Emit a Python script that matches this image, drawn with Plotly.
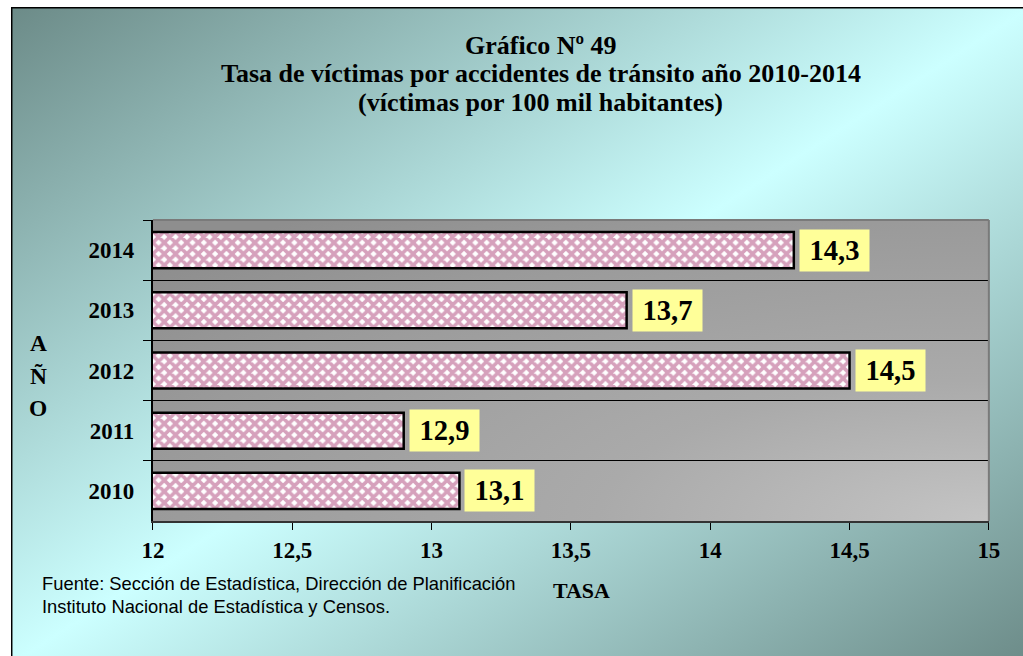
import base64
import plotly.graph_objects as go

# Rate of traffic-accident victims per 100k inhabitants, by year
years = ["2010", "2011", "2012", "2013", "2014"]
rates = [13.1, 12.9, 14.5, 13.7, 14.3]
x_ticks = [12, 12.5, 13, 13.5, 14, 14.5, 15]

title_lines = [
    "Gráfico Nº 49",
    "Tasa de víctimas por accidentes de tránsito año 2010-2014",
    "(víctimas por 100 mil habitantes)",
]
source_lines = [
    "Fuente: Sección de Estadística, Dirección de Planificación",
    "Instituto Nacional de Estadística y Censos.",
]

# Figure size and layout positions, in figure pixels
FW, FH = 1040, 656
PL, PR, PT, PB = 145, 999, 220, 521  # plot box
FS = 1.02  # common font scale


def px(x):
    return x / FW


def py(y):
    return 1 - y / FH


def svg_uri(svg):
    return "data:image/svg+xml;base64," + base64.b64encode(svg.encode("utf-8")).decode()


# teal diagonal gradient behind the whole chart, with a thin frame on left/top
page_svg = (
    f'<svg xmlns="http://www.w3.org/2000/svg" width="{FW}" height="{FH}" viewBox="0 0 {FW} {FH}" '
    'preserveAspectRatio="none"><defs>'
    '<linearGradient id="g" x1="0" y1="0" x2="1" y2="1">'
    '<stop offset="0" stop-color="#6c8b88"/><stop offset="0.5" stop-color="#ccffff"/>'
    '<stop offset="1" stop-color="#6c8b88"/></linearGradient></defs>'
    f'<rect x="0" y="8" width="{FW}" height="{FH}" fill="url(#g)"/>'
    f'<path d="M0.75 {FH} V7.75 H{FW}" stroke="#000" stroke-width="1.5" fill="none"/></svg>'
)

# grey plot area, lightest toward the lower right
pw, ph = PR - PL, PB - PT
plot_svg = (
    f'<svg xmlns="http://www.w3.org/2000/svg" width="{pw}" height="{ph}" viewBox="0 0 {pw} {ph}" '
    'preserveAspectRatio="none"><defs>'
    '<radialGradient id="r" cx="1" cy="1" r="1.3" fx="1" fy="1">'
    '<stop offset="0" stop-color="#c4c4c4"/><stop offset="0.36" stop-color="#aaaaaa"/>'
    '<stop offset="0.77" stop-color="#9a9a9a"/><stop offset="1" stop-color="#8e8e8e"/>'
    '</radialGradient></defs>'
    f'<rect x="0" y="0" width="{pw}" height="{ph}" fill="url(#r)"/></svg>'
)

serif = "Liberation Serif"
sans = "Liberation Sans"

fig = go.Figure(
    go.Bar(
        y=years,
        x=rates,
        orientation="h",
        width=0.6,
        marker=dict(
            color="#ffffff",
            pattern=dict(shape="x", fgcolor="#ad4479", bgcolor="#ffffff", size=8, solidity=0.7),
            line=dict(color="black", width=2.5),
        ),
        hoverinfo="x+y",
    )
)

annotations = []
for i, v in enumerate(rates):
    # value boxes sit just past the bar end (category index on the y axis)
    annotations.append(dict(
        x=v, y=i, xref="x", yref="y", xanchor="left", yanchor="middle", xshift=5,
        text=f"{v:.1f}".replace(".", ","), showarrow=False,
        bgcolor="#ffff99", borderpad=4, width=61, height=33,
        font=dict(family=serif, size=28 * FS, color="black", weight="bold"),
    ))

for i, line in enumerate(title_lines):
    annotations.append(dict(
        x=px(541), y=py(45 + i * 28.5), xref="paper", yref="paper",
        xanchor="center", yanchor="middle", text=line, showarrow=False,
        font=dict(family=serif, size=25.5 * FS, color="black", weight="bold"),
    ))

for i, ch in enumerate("AÑO"):
    annotations.append(dict(
        x=px(28), y=py(343 + i * 32.5), xref="paper", yref="paper",
        xanchor="center", yanchor="middle", text=ch, showarrow=False,
        font=dict(family=serif, size=23 * FS, color="black", weight="bold"),
    ))

annotations.append(dict(
    x=px(583), y=py(590), xref="paper", yref="paper", xanchor="center", yanchor="middle",
    text="TASA", showarrow=False,
    font=dict(family=serif, size=21.5 * FS, color="black", weight="bold"),
))

for i, line in enumerate(source_lines):
    annotations.append(dict(
        x=px(29.5), y=py(583 + i * 23), xref="paper", yref="paper",
        xanchor="left", yanchor="middle", text=line, showarrow=False,
        font=dict(family=sans, size=18 * FS, color="black"),
    ))

fig.update_layout(
    width=FW, height=FH,
    margin=dict(l=0, r=0, t=0, b=0),
    paper_bgcolor="white",
    plot_bgcolor="rgba(0,0,0,0)",
    showlegend=False,
    annotations=annotations,
    images=[
        dict(source=svg_uri(page_svg), xref="paper", yref="paper", x=0, y=1,
             sizex=1, sizey=1, sizing="stretch", xanchor="left", yanchor="top", layer="below"),
        dict(source=svg_uri(plot_svg), xref="paper", yref="paper", x=px(PL), y=py(PT),
             sizex=pw / FW, sizey=ph / FH, sizing="stretch", xanchor="left", yanchor="top",
             layer="below"),
    ],
    shapes=[
        dict(type="line", xref="paper", yref="paper", x0=px(PL), x1=px(PR), y0=py(PT), y1=py(PT),
             line=dict(color="#7a7a7a", width=2)),
        dict(type="line", xref="paper", yref="paper", x0=px(PR), x1=px(PR), y0=py(PT), y1=py(PB),
             line=dict(color="#7a7a7a", width=2)),
    ],
    xaxis=dict(
        domain=[px(PL), px(PR)], range=[12, 15],
        tickmode="array", tickvals=x_ticks,
        ticktext=[f"{v:g}".replace(".", ",") for v in x_ticks],
        ticks="outside", ticklen=7, tickwidth=1, tickcolor="black",
        showline=True, linecolor="#333333", linewidth=2,
        showgrid=False, zeroline=False,
        tickfont=dict(family=serif, size=22.5 * FS, color="black", weight="bold"),
    ),
    yaxis=dict(
        domain=[py(PB), py(PT)], type="category",
        categoryorder="array", categoryarray=years, range=[-0.5, 4.5],
        tickson="boundaries", ticks="outside", ticklen=8, tickwidth=1, tickcolor="black",
        ticklabelstandoff=12,
        showline=True, linecolor="black", linewidth=2,
        showgrid=True, gridcolor="black", gridwidth=1,
        tickfont=dict(family=serif, size=22.5 * FS, color="black", weight="bold"),
    ),
)

fig.write_html("out.html")
